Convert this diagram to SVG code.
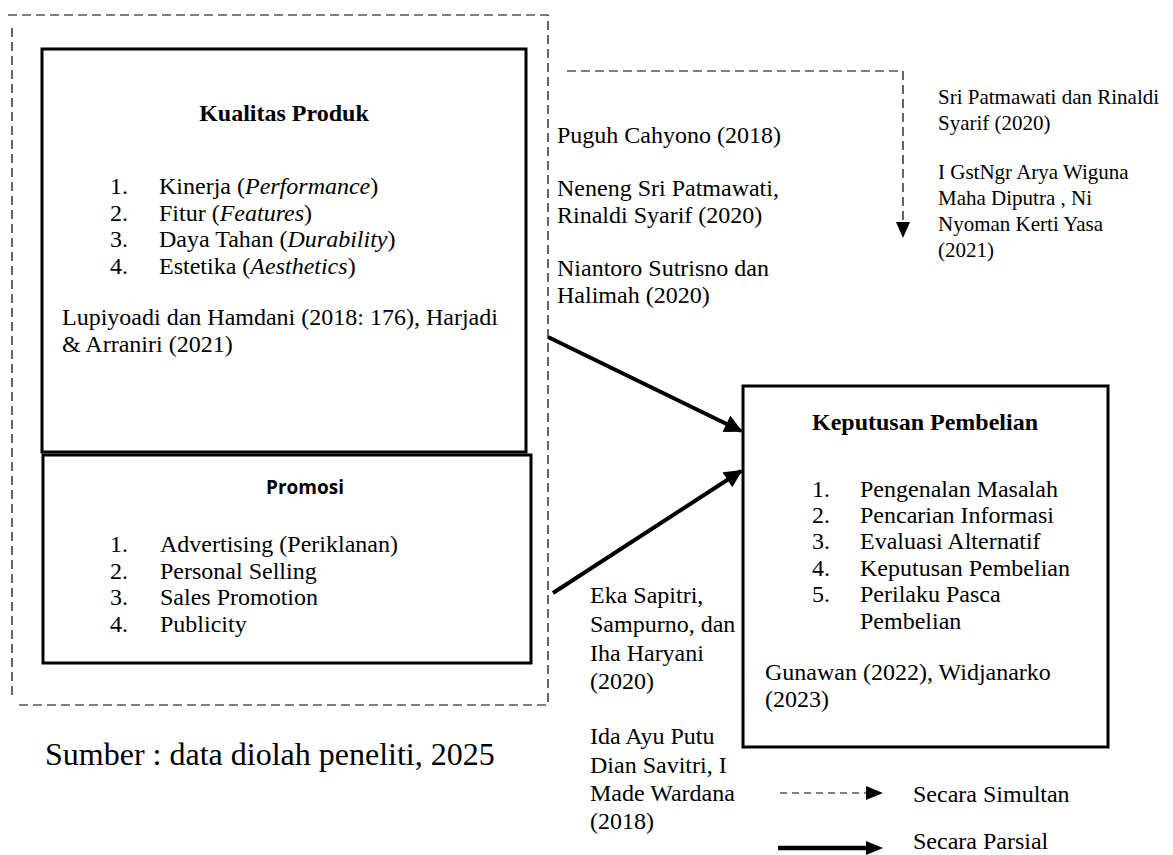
<svg xmlns="http://www.w3.org/2000/svg" width="1173" height="855" viewBox="0 0 1173 855">
<defs>
<style>
.t{font-family:"Liberation Serif","Times New Roman",serif;font-size:24px;fill:#000}
.s{font-family:"Liberation Serif","Times New Roman",serif;font-size:21px;fill:#000}
.b{font-weight:bold}
.box{fill:#fff;stroke:#000;stroke-width:3}
.dash{fill:none;stroke:#000;stroke-width:1.2;stroke-dasharray:9,5}
.solid{fill:none;stroke:#000;stroke-width:4}
</style>
<marker id="ah" viewBox="0 0 10 10" refX="9" refY="5" markerWidth="5" markerHeight="4.5" markerUnits="strokeWidth" orient="auto"><path d="M0,0 L10,5 L0,10 z" fill="#000"/></marker>
</defs>
<rect width="1173" height="855" fill="#fff"/>
<g id="frame">
<path class="dash" d="M8,15 H548 V705 H15 M12,28 V700"/>
</g>
<g id="kualitas">
<rect class="box" x="42" y="49" width="484" height="403"/>
<text class="t b" x="284" y="121" text-anchor="middle">Kualitas Produk</text>
<text class="t" x="110" y="194">1.</text><text class="t" x="159" y="194">Kinerja (<tspan font-style="italic">Performance</tspan>)</text>
<text class="t" x="110" y="221">2.</text><text class="t" x="159" y="221">Fitur (<tspan font-style="italic">Features</tspan>)</text>
<text class="t" x="110" y="247">3.</text><text class="t" x="159" y="247">Daya Tahan (<tspan font-style="italic">Durability</tspan>)</text>
<text class="t" x="110" y="274">4.</text><text class="t" x="159" y="274">Estetika (<tspan font-style="italic">Aesthetics</tspan>)</text>
<text class="t" x="62" y="325">Lupiyoadi dan Hamdani (2018: 176), Harjadi</text>
<text class="t" x="62" y="352">&amp; Arraniri (2021)</text>
</g>
<g id="promosi">
<rect class="box" x="43" y="455" width="488" height="208"/>
<text x="305" y="494" text-anchor="middle" font-family="'Open Sans','Liberation Sans',sans-serif" font-weight="bold" font-size="19">Promosi</text>
<text class="t" x="110" y="552">1.</text><text class="t" x="160" y="552">Advertising (Periklanan)</text>
<text class="t" x="110" y="579">2.</text><text class="t" x="160" y="579">Personal Selling</text>
<text class="t" x="110" y="605">3.</text><text class="t" x="160" y="605">Sales Promotion</text>
<text class="t" x="110" y="632">4.</text><text class="t" x="160" y="632">Publicity</text>
</g>
<g id="keputusan">
<rect class="box" x="743" y="386" width="365" height="361"/>
<text class="t b" x="925" y="430" text-anchor="middle">Keputusan Pembelian</text>
<text class="t" x="812" y="497">1.</text><text class="t" x="860" y="497">Pengenalan Masalah</text>
<text class="t" x="812" y="523">2.</text><text class="t" x="860" y="523">Pencarian Informasi</text>
<text class="t" x="812" y="549">3.</text><text class="t" x="860" y="549">Evaluasi Alternatif</text>
<text class="t" x="812" y="576">4.</text><text class="t" x="860" y="576">Keputusan Pembelian</text>
<text class="t" x="812" y="602">5.</text><text class="t" x="860" y="602">Perilaku Pasca</text>
<text class="t" x="860" y="629">Pembelian</text>
<text class="t" x="765" y="680">Gunawan (2022), Widjanarko</text>
<text class="t" x="765" y="707">(2023)</text>
</g>
<g id="connectors">
<path class="dash" d="M567,71 H903 V224"/>
<path d="M896,222 L910,222 L903,238 z" fill="#000"/>
<line class="solid" x1="548" y1="337" x2="741" y2="431" marker-end="url(#ah)"/>
<line class="solid" x1="553" y1="593" x2="741" y2="471" marker-end="url(#ah)"/>
</g>
<g id="labels">
<text class="t" x="557" y="143">Puguh Cahyono (2018)</text>
<text class="t" x="557" y="196">Neneng Sri Patmawati,</text>
<text class="t" x="557" y="223">Rinaldi Syarif (2020)</text>
<text class="t" x="557" y="276">Niantoro Sutrisno dan</text>
<text class="t" x="557" y="303">Halimah (2020)</text>
<text class="s" x="938" y="104">Sri Patmawati dan Rinaldi</text>
<text class="s" x="938" y="130">Syarif (2020)</text>
<text class="s" x="938" y="179">I GstNgr Arya Wiguna</text>
<text class="s" x="938" y="205">Maha Diputra , Ni</text>
<text class="s" x="938" y="231">Nyoman Kerti Yasa</text>
<text class="s" x="938" y="257">(2021)</text>
<text class="t" x="590" y="603">Eka Sapitri,</text>
<text class="t" x="590" y="632">Sampurno, dan</text>
<text class="t" x="590" y="661">Iha Haryani</text>
<text class="t" x="590" y="689">(2020)</text>
<text class="t" x="590" y="744">Ida Ayu Putu</text>
<text class="t" x="590" y="773">Dian Savitri, I</text>
<text class="t" x="590" y="801">Made Wardana</text>
<text class="t" x="590" y="829">(2018)</text>
<text x="45" y="765" font-family="'Liberation Serif','Times New Roman',serif" font-size="32">Sumber : data diolah peneliti, 2025</text>
</g>
<g id="legend">
<line x1="780" y1="793" x2="866" y2="793" stroke="#000" stroke-width="1.2" stroke-dasharray="7,5"/>
<path d="M866,786 L883,793 L866,800 z" fill="#000"/>
<line x1="778" y1="848" x2="868" y2="848" stroke="#000" stroke-width="4.5"/>
<path d="M866,841 L883,848 L866,855 z" fill="#000"/>
<text class="t" x="913" y="802">Secara Simultan</text>
<text class="t" x="913" y="849">Secara Parsial</text>
</g>
</svg>
